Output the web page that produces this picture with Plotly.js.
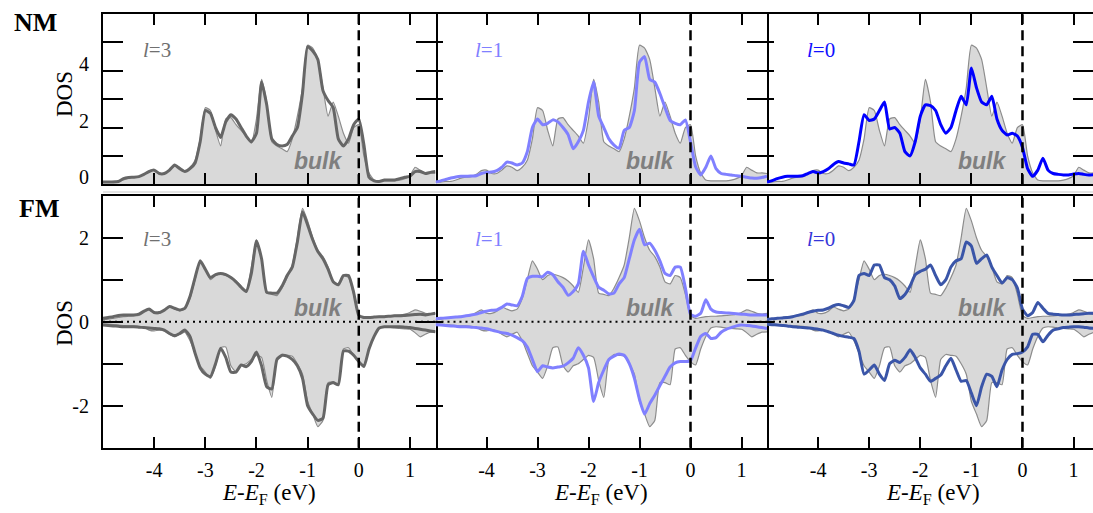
<!DOCTYPE html>
<html><head><meta charset="utf-8">
<script src="https://cdn.plot.ly/plotly-3.0.1.min.js"></script>
<style>html,body{margin:0;padding:0;background:#fff}#chart{width:1093px;height:513px}</style>
</head><body><div id="chart"></div>
<script>
// Energy grid E - E_F (eV)
const energy = [-5.0,-4.9,-4.8,-4.7,-4.6,-4.5,-4.4,-4.3,-4.2,-4.1,
  -4.0,-3.9,-3.8,-3.7,-3.6,-3.5,-3.4,-3.3,-3.2,-3.1,
  -3.0,-2.9,-2.8,-2.7,-2.6,-2.5,-2.4,-2.3,-2.2,-2.1,
  -2.0,-1.9,-1.8,-1.7,-1.6,-1.5,-1.4,-1.3,-1.2,-1.1,
  -1.0,-0.9,-0.8,-0.7,-0.6,-0.5,-0.4,-0.3,-0.2,-0.1,
  0.0,0.1,0.2,0.3,0.4,0.5,0.6,0.7,0.8,0.9,
  1.0,1.1,1.2,1.3,1.4,1.5];

// NM (non-magnetic) DOS
const nmBulk = [0.08,0.08,0.1,0.1,0.15,0.22,0.25,0.27,0.35,0.48,
  0.5,0.38,0.38,0.5,0.65,0.6,0.48,0.6,0.85,1.6,
  2.7,2.6,1.9,1.35,2.3,2.35,2.1,1.9,1.7,1.45,
  2.3,3.7,2.9,1.5,1.35,1.25,1.15,1.6,2.4,3.4,
  4.9,4.8,4.4,3.4,2.4,2.9,2.4,1.8,1.45,2.0,
  2.1,1.0,0.4,0.15,0.12,0.12,0.12,0.12,0.15,0.2,
  0.3,0.6,0.5,0.4,0.4,0.38];
const nmL3 = [0.08,0.08,0.08,0.1,0.2,0.24,0.25,0.27,0.35,0.45,
  0.5,0.38,0.38,0.5,0.68,0.55,0.45,0.55,0.75,1.5,
  2.6,2.5,2.0,1.65,2.2,2.45,2.3,2.0,1.7,1.5,
  1.8,3.6,2.8,1.6,1.4,1.35,1.4,1.7,2.0,3.2,
  4.85,4.7,4.4,3.3,2.95,2.7,1.6,1.35,1.6,2.1,
  2.3,1.4,0.25,0.12,0.1,0.15,0.15,0.15,0.2,0.25,
  0.28,0.45,0.45,0.38,0.42,0.45];
const nmL1 = [0.08,0.12,0.17,0.22,0.26,0.28,0.28,0.29,0.3,0.38,
  0.42,0.43,0.48,0.6,0.78,0.75,0.68,0.75,1.15,2.0,
  2.3,2.1,2.15,2.27,2.2,2.0,1.75,1.25,1.5,1.9,
  2.9,3.6,2.4,2.0,1.6,1.38,1.27,1.9,2.0,2.6,
  4.3,4.5,3.7,3.6,3.2,2.7,2.25,2.15,2.1,2.27,
  1.5,0.62,0.33,0.6,1.0,0.55,0.38,0.35,0.33,0.3,
  0.28,0.25,0.22,0.21,0.24,0.29];
const nmL0 = [0.08,0.13,0.2,0.25,0.28,0.28,0.28,0.3,0.38,0.45,
  0.4,0.45,0.55,0.7,0.8,0.75,0.72,0.68,1.5,2.45,
  2.25,2.3,2.6,2.9,1.95,2.0,1.8,1.15,1.0,1.5,
  2.4,2.8,2.77,2.6,2.1,1.8,2.0,2.6,3.1,2.8,
  4.1,3.4,2.9,2.8,3.1,2.3,1.9,1.74,1.8,1.7,
  1.3,0.55,0.28,0.5,0.92,0.5,0.38,0.35,0.33,0.33,
  0.36,0.38,0.35,0.33,0.34,0.35];

// FM (ferromagnetic) DOS, spin up (positive) and spin down (negative)
const fmBulkUp = [0.05,0.06,0.08,0.1,0.12,0.13,0.14,0.15,0.22,0.28,
  0.2,0.2,0.25,0.35,0.3,0.26,0.3,0.55,1.0,1.45,
  1.25,1.0,1.1,1.13,1.1,1.05,0.97,0.85,0.7,1.3,
  1.95,1.5,0.68,0.65,0.62,0.8,1.05,1.35,2.0,2.7,
  2.4,2.0,1.7,1.55,1.3,0.95,0.9,1.1,1.05,0.65,
  0.15,0.08,0.1,0.12,0.13,0.13,0.14,0.15,0.16,0.18,
  0.22,0.28,0.25,0.2,0.18,0.2];
const fmBulkDown = [-0.05,-0.06,-0.07,-0.08,-0.09,-0.1,-0.1,-0.11,-0.13,-0.2,
  -0.22,-0.2,-0.22,-0.3,-0.36,-0.3,-0.25,-0.45,-0.75,-1.05,
  -1.2,-1.35,-1.05,-0.62,-0.6,-1.05,-1.2,-1.05,-1.0,-0.9,
  -0.8,-0.85,-1.4,-1.8,-0.9,-0.78,-0.8,-0.82,-1.0,-1.25,
  -1.9,-2.2,-2.5,-2.35,-1.45,-1.45,-1.5,-0.65,-0.62,-0.8,
  -0.95,-1.03,-0.65,-0.35,-0.15,-0.12,-0.13,-0.15,-0.16,-0.17,
  -0.18,-0.26,-0.36,-0.3,-0.25,-0.24];
const fmL3Up = [0.08,0.1,0.12,0.15,0.16,0.16,0.16,0.18,0.25,0.3,
  0.22,0.22,0.28,0.36,0.32,0.28,0.32,0.6,1.05,1.45,
  1.25,1.05,1.12,1.15,1.12,1.05,0.95,0.82,0.72,1.15,
  1.92,1.5,0.7,0.68,0.68,0.85,1.1,1.3,1.9,2.62,
  2.3,1.95,1.67,1.5,1.25,0.95,0.88,1.1,1.1,0.7,
  0.15,0.1,0.1,0.11,0.12,0.12,0.13,0.14,0.14,0.15,
  0.16,0.17,0.18,0.16,0.18,0.2];
const fmL3Down = [-0.08,-0.09,-0.1,-0.11,-0.12,-0.12,-0.12,-0.13,-0.14,-0.15,
  -0.16,-0.17,-0.2,-0.28,-0.33,-0.28,-0.2,-0.35,-0.75,-1.1,
  -1.25,-1.31,-1.0,-0.63,-0.85,-1.2,-1.2,-1.03,-1.07,-0.95,
  -0.72,-1.05,-1.55,-1.6,-0.9,-0.8,-0.82,-0.9,-1.05,-1.35,
  -2.0,-2.2,-2.35,-2.3,-1.5,-1.45,-1.5,-0.7,-0.7,-0.8,
  -0.95,-1.07,-0.65,-0.35,-0.15,-0.12,-0.12,-0.12,-0.12,-0.13,
  -0.14,-0.16,-0.18,-0.2,-0.22,-0.24];
const fmL1Up = [0.07,0.08,0.09,0.1,0.11,0.12,0.14,0.16,0.18,0.22,
  0.25,0.27,0.28,0.34,0.42,0.4,0.38,0.6,1.03,1.08,
  1.08,1.07,1.18,1.12,0.95,0.82,0.63,0.72,0.9,1.68,
  1.35,1.07,0.82,0.75,0.66,0.68,0.9,1.05,1.5,1.95,
  2.2,1.83,1.87,1.7,1.45,1.15,1.1,1.3,1.3,0.8,
  0.18,0.13,0.2,0.52,0.3,0.23,0.22,0.21,0.2,0.19,
  0.18,0.17,0.16,0.16,0.16,0.16];
const fmL1Down = [-0.07,-0.08,-0.09,-0.1,-0.11,-0.12,-0.12,-0.13,-0.14,-0.15,
  -0.17,-0.2,-0.23,-0.26,-0.28,-0.32,-0.38,-0.45,-0.6,-0.9,
  -1.19,-1.05,-1.08,-1.1,-1.08,-1.06,-0.98,-0.87,-0.62,-0.8,
  -1.1,-1.9,-1.45,-1.15,-0.9,-0.82,-0.77,-0.8,-1.0,-1.35,
  -1.85,-2.2,-1.95,-1.75,-1.52,-1.3,-1.08,-0.98,-0.95,-0.95,
  -0.93,-0.63,-0.35,-0.28,-0.4,-0.38,-0.25,-0.18,-0.14,-0.1,
  -0.08,-0.09,-0.1,-0.12,-0.14,-0.16];
const fmL0Up = [0.05,0.07,0.08,0.09,0.1,0.12,0.15,0.18,0.22,0.25,
  0.27,0.28,0.32,0.38,0.41,0.38,0.34,0.5,1.1,1.15,
  1.1,1.35,1.35,1.05,1.0,0.85,0.55,0.65,0.85,1.12,
  1.2,1.25,1.35,1.1,0.88,1.0,1.3,1.45,1.5,1.9,
  1.8,1.39,1.5,1.59,1.3,1.1,0.92,1.05,1.0,0.8,
  0.3,0.14,0.22,0.46,0.32,0.2,0.18,0.17,0.16,0.16,
  0.17,0.18,0.19,0.2,0.2,0.2];
const fmL0Down = [-0.06,-0.07,-0.08,-0.09,-0.1,-0.12,-0.13,-0.14,-0.15,-0.16,
  -0.18,-0.2,-0.24,-0.28,-0.32,-0.35,-0.37,-0.4,-0.7,-1.25,
  -1.15,-1.03,-1.25,-1.4,-1.0,-0.92,-0.97,-0.85,-0.67,-0.85,
  -1.1,-1.25,-1.42,-1.35,-1.27,-1.05,-0.87,-1.15,-1.42,-1.4,
  -1.7,-2.0,-1.55,-1.25,-1.3,-1.55,-1.15,-0.9,-0.78,-0.76,
  -0.72,-0.6,-0.3,-0.3,-0.48,-0.32,-0.2,-0.17,-0.14,-0.13,
  -0.12,-0.12,-0.13,-0.15,-0.16,-0.17];

// Labels
const panelLabels = ['<i>l</i>=3', '<i>l</i>=1', '<i>l</i>=0'];
const rowLabels = ['NM', 'FM'];
const xTickVals = [-4, -3, -2, -1, 0, 1];
const xTickText = ['-4', '-3', '-2', '-1', '0', '1'];
const nmTickVals = [0, 2, 4];
const nmTickText = ['0', '2', '4'];
const nmMinorVals = [1, 3, 5];
const fmTickVals = [-2, 0, 2];
const fmTickText = ['-2', '0', '2'];
const fmMinorVals = [-1, 1];

// Styles
const colL3 = '#666666', colL1 = '#8080ff', colL0nm = '#0000ff', colL0fm = '#3a55a8';
const labelColors = [['#707070', '#8080ff', '#1010ff'], ['#707070', '#8080ff', '#3535d8']];
const bulkFill = '#d9d9d9', bulkLine = '#8c8c8c';
const serif = '"Liberation Serif", "Times New Roman", Times, serif';
const sans = '"Liberation Sans", Arial, Helvetica, sans-serif';

const W = 1093, H = 513;
const colDomains = [[103 / W, 435.5 / W], [435.5 / W, 767 / W], [767 / W, 1]];
const colRanges = [[-5, 1.5], [-5, 1.5], [-5, 1.38]];
const rowDomains = [[1 - 184.3 / H, 1 - 14 / H], [1 - 447.7 / H, 1 - 195.7 / H]];
const rowRanges = [[0, 6], [-3, 3]];

// y-axis id used by the curves of each panel (panels 2,3,5,6 use a right-side overlay axis)
const lineAxis = {1: '', 2: '7', 3: '8', 4: '4', 5: '9', 6: '10'};

const data = [];
function bulkTrace(y, n) {
  const s = n === 1 ? '' : String(n);
  return {x: energy, y: y, xaxis: 'x' + s, yaxis: 'y' + s, type: 'scatter', mode: 'lines',
    fill: 'tozeroy', fillcolor: bulkFill, line: {color: bulkLine, width: 1.2, shape: 'spline', smoothing: 0.5},
    hoverinfo: 'skip'};
}
function lineTrace(y, n, c) {
  const s = n === 1 ? '' : String(n);
  return {x: energy, y: y, xaxis: 'x' + s, yaxis: 'y' + lineAxis[n], type: 'scatter', mode: 'lines',
    line: {color: c, width: 3, shape: 'spline', smoothing: 0.5}, hoverinfo: 'skip'};
}
const nmSeries = [[nmL3, colL3], [nmL1, colL1], [nmL0, colL0nm]];
const fmSeries = [[fmL3Up, fmL3Down, colL3], [fmL1Up, fmL1Down, colL1], [fmL0Up, fmL0Down, colL0fm]];
for (let c = 0; c < 3; c++) {
  const n = c + 1;
  data.push(bulkTrace(nmBulk, n));
  data.push(lineTrace(nmSeries[c][0], n, nmSeries[c][1]));
  const m = c + 4;
  data.push(bulkTrace(fmBulkUp, m));
  data.push(bulkTrace(fmBulkDown, m));
  data.push(lineTrace(fmSeries[c][0], m, fmSeries[c][2]));
  data.push(lineTrace(fmSeries[c][1], m, fmSeries[c][2]));
}

const layout = {
  width: W, height: H, margin: {l: 0, r: 0, t: 0, b: 0},
  paper_bgcolor: '#ffffff', plot_bgcolor: 'rgba(0,0,0,0)',
  showlegend: false, hovermode: false,
  font: {family: serif, color: '#000'},
  shapes: [], annotations: []
};
const tickFont = {family: serif, size: 20, color: '#000'};
for (let r = 0; r < 2; r++) {
  for (let c = 0; c < 3; c++) {
    const n = r * 3 + c + 1;
    const xs = n === 1 ? '' : String(n);
    layout['xaxis' + xs] = {
      domain: colDomains[c], range: colRanges[c], anchor: 'y' + xs,
      showline: true, linecolor: '#000', linewidth: 2, mirror: 'ticks',
      ticks: 'inside', ticklen: 11, tickwidth: 2, tickcolor: '#000',
      tickmode: 'array', tickvals: xTickVals, ticktext: xTickText,
      showticklabels: r === 1, tickfont: tickFont, ticklabelstandoff: 3,
      showgrid: false, zeroline: false, fixedrange: true
    };
    const yv = r === 0 ? nmTickVals : fmTickVals;
    const yt = r === 0 ? nmTickText : fmTickText;
    const ym = r === 0 ? nmMinorVals : fmMinorVals;
    const mkMinor = (len) => ({tickmode: 'array', tickvals: ym, ticks: 'inside', ticklen: len,
      tickwidth: 2, tickcolor: '#000', showgrid: false});
    const yax = {
      domain: rowDomains[r], range: rowRanges[r], anchor: 'x' + xs,
      linecolor: '#000', linewidth: 2,
      ticks: 'inside', tickwidth: 2, tickcolor: '#000',
      tickmode: 'array', tickvals: yv, ticktext: yt,
      tickfont: tickFont, showgrid: false, zeroline: false, fixedrange: true
    };
    if (c === 0) {
      yax.showline = true; yax.mirror = 'ticks'; yax.ticklen = 20; yax.ticklabelstandoff = 8;
      yax.minor = mkMinor(20);
      if (r === 0) yax.ticklabelshift = -7;
    } else {
      // left border comes from the neighbouring panel's mirrored line; short ticks on the left
      yax.showline = false; yax.ticklen = 7; yax.showticklabels = false;
      yax.minor = mkMinor(7);
      layout['yaxis' + lineAxis[n]] = {
        overlaying: 'y' + xs, anchor: 'x' + xs, side: 'right', range: rowRanges[r],
        showline: c === 1, linecolor: '#000', linewidth: 2,
        ticks: 'inside', ticklen: 20, tickwidth: 2, tickcolor: '#000',
        tickmode: 'array', tickvals: yv, showticklabels: false, minor: mkMinor(20),
        showgrid: false, zeroline: false, fixedrange: true
      };
    }
    layout['yaxis' + xs] = yax;

    // Fermi level dashed line
    layout.shapes.push({type: 'line', xref: 'x' + xs, yref: 'y' + xs + ' domain',
      x0: 0, x1: 0, y0: 0, y1: 1, line: {color: '#000', width: 2.5, dash: '10px,6px'}});
    if (r === 1) {
      layout.shapes.push({type: 'line', xref: 'x' + xs + ' domain', yref: 'y' + xs,
        x0: 0, x1: 1, y0: 0, y1: 0, line: {color: '#000', width: 2, dash: '2px,4px'}});
    }
    // l labels
    layout.annotations.push({xref: 'x' + xs, yref: 'y' + xs + ' domain', x: -3.95, y: r === 0 ? 0.79 : 0.83,
      text: panelLabels[c], showarrow: false, xanchor: 'center', yanchor: 'middle',
      font: {family: serif, size: 21, color: labelColors[r][c]}});
    // bulk labels
    layout.annotations.push({xref: 'x' + xs, yref: 'y' + xs + ' domain', x: -0.8, y: r === 0 ? 0.135 : 0.556,
      text: '<b><i>bulk</i></b>', showarrow: false, xanchor: 'center', yanchor: 'middle',
      font: {family: sans, size: 23, color: '#7f7f7f'}});
    // x titles
    if (r === 1) {
      layout.annotations.push({xref: 'x' + xs, yref: 'paper', x: -1.75, y: 1 - 494 / H,
        text: '<i>E</i>-<i>E</i><sub>F</sub> (eV)', showarrow: false, xanchor: 'center', yanchor: 'middle',
        font: {family: serif, size: 23, color: '#000'}});
    }
  }
  // DOS titles and row labels
  layout.annotations.push({xref: 'paper', yref: 'paper', x: 64.5 / W, y: 1 - (r === 0 ? 94.5 : 323.5) / H,
    text: 'DOS', textangle: -90, showarrow: false, xanchor: 'center', yanchor: 'middle',
    font: {family: serif, size: 23, color: '#000'}});
  layout.annotations.push({xref: 'paper', yref: 'paper', x: (r === 0 ? 35 : 39) / W, y: 1 - (r === 0 ? 23 : 208) / H,
    text: '<b>' + rowLabels[r] + '</b>', showarrow: false, xanchor: 'center', yanchor: 'middle',
    font: {family: serif, size: 26, color: '#000'}});
}
// faint separator under the NM row
layout.shapes.push({type: 'line', xref: 'paper', yref: 'paper', x0: 103 / W, x1: 1, y0: 1 - 192 / H, y1: 1 - 192 / H,
  line: {color: '#e4e4e4', width: 2}});

Plotly.newPlot('chart', data, layout, {displayModeBar: false, staticPlot: true});
</script>
</body></html>
